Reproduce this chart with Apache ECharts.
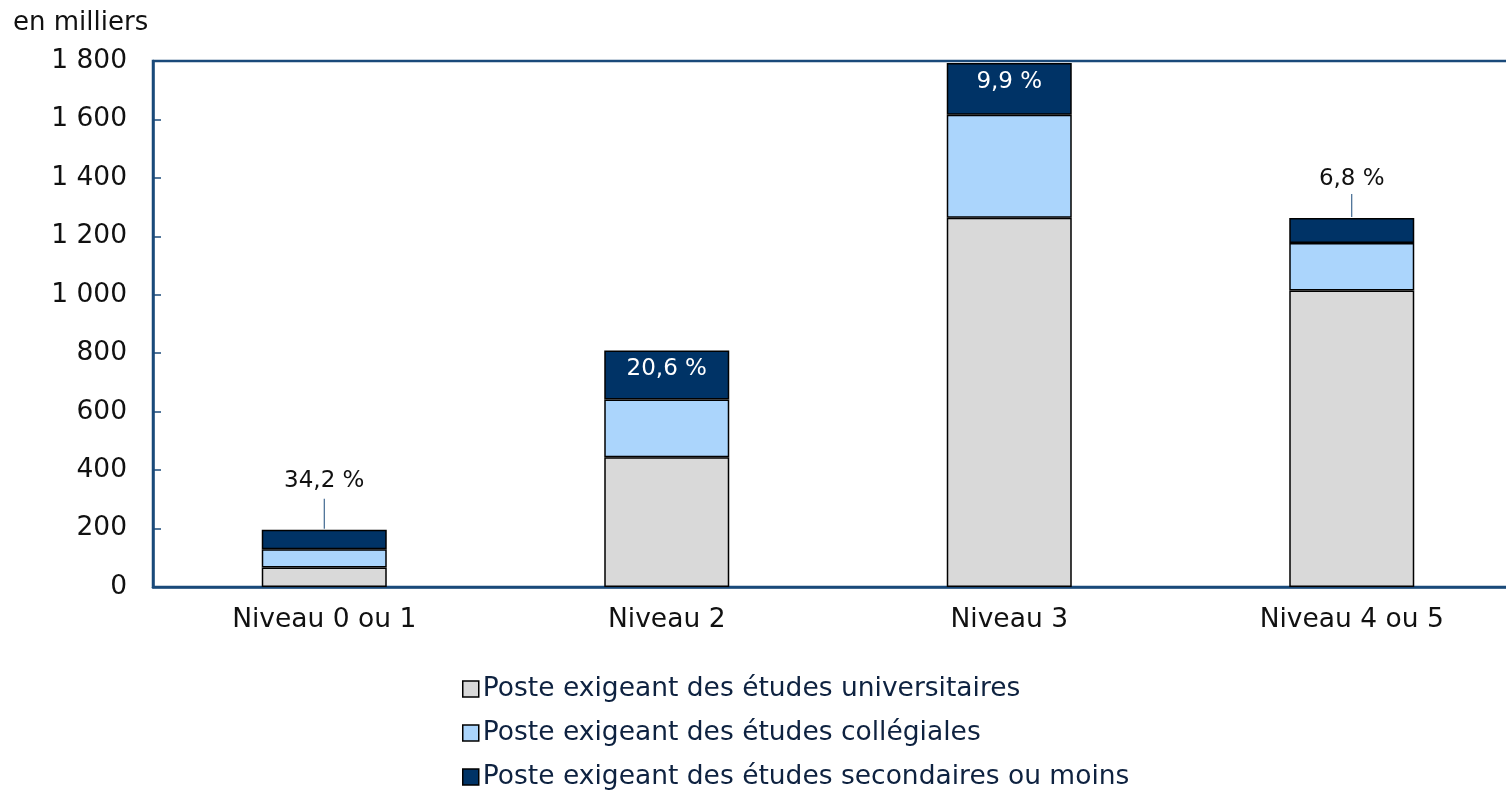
<!DOCTYPE html>
<html>
<head>
<meta charset="utf-8">
<script src="https://cdn.jsdelivr.net/npm/echarts@6/dist/echarts.min.js"></script>
<style>
  html, body { margin: 0; padding: 0; background: #fff; }
  #chart { width: 1506px; height: 791px; }
</style>
</head>
<body>
<div id="chart"></div>
<script>
// catégories et valeurs (en milliers)
const categories = ['Niveau 0 ou 1', 'Niveau 2', 'Niveau 3', 'Niveau 4 ou 5'];
const universitaires = [67, 444, 1264, 1015];
const collegiales = [62, 198, 352, 162];
const secondaires = [67, 167, 177, 86];
const pourcentages = ['34,2 %', '20,6 %', '9,9 %', '6,8 %'];
// étiquette à l'intérieur de la barre (true) ou au-dessus avec un trait (false)
const labelInside = [false, true, true, false];
const yTicks = [0, 200, 400, 600, 800, 1000, 1200, 1400, 1600, 1800];

const FONT = '"DejaVu Sans", Verdana, sans-serif';
const axisColor = '#1a4a7a';
// longueur du trait de rappel et hauteur de ligne du texte, pour les étiquettes hors barre
const leaderLen = [30, 0, 0, 23];
const leaderText = [36, 0, 0, 30];

const chart = echarts.init(document.getElementById('chart'));

function fmtThousands(v) {
  return String(v).replace(/\B(?=(\d{3})+(?!\d))/g, ' ');
}

const secData = secondaires.map((v, i) => {
  if (labelInside[i]) {
    return {
      value: v,
      label: {
        show: true,
        position: 'insideTop',
        distance: 7,
        color: '#fff',
        fontSize: 23,
        fontFamily: FONT,
        formatter: pourcentages[i]
      }
    };
  }
  return {
    value: v,
    label: {
      show: true,
      position: 'top',
      distance: 1,
      formatter: '{v|' + pourcentages[i] + '}\n{l|}',
      rich: {
        v: { fontSize: 23, fontFamily: FONT, color: '#111', lineHeight: leaderText[i] },
        l: { width: 1, height: leaderLen[i], backgroundColor: axisColor }
      }
    }
  };
});

const option = {
  animation: false,
  textStyle: { fontFamily: FONT },
  title: {
    text: 'en milliers',
    left: 8,
    top: 5,
    textStyle: { fontSize: 26, fontWeight: 'normal', color: '#111', fontFamily: FONT }
  },
  grid: {
    left: 153,
    top: 61,
    width: 1370,
    height: 526,
    outerBoundsMode: 'none',
    containLabel: false,
    show: true,
    borderColor: axisColor,
    borderWidth: 2.5,
    backgroundColor: 'transparent'
  },
  legend: {
    orient: 'vertical',
    left: 457,
    top: 669,
    height: 200,
    itemWidth: 16,
    itemHeight: 16,
    itemGap: 14,
    icon: 'rect',
    selectedMode: false,
    itemStyle: { borderColor: '#000', borderWidth: 1.5 },
    textStyle: { fontSize: 26.5, color: '#0e2240', fontFamily: FONT, lineHeight: 30, padding: [0, 0, 0, -1] },
    data: [
      'Poste exigeant des études universitaires',
      'Poste exigeant des études collégiales',
      'Poste exigeant des études secondaires ou moins'
    ]
  },
  xAxis: {
    type: 'category',
    data: categories,
    axisLine: { show: true, lineStyle: { color: axisColor, width: 2.5 } },
    axisTick: { show: false },
    axisLabel: { fontSize: 26.5, color: '#111', margin: 20, fontFamily: FONT }
  },
  yAxis: {
    type: 'value',
    min: 0,
    max: 1800,
    interval: 200,
    splitLine: { show: false },
    axisLine: { show: true, lineStyle: { color: axisColor, width: 2.5 } },
    axisTick: { show: true, inside: true, length: 8, lineStyle: { color: axisColor, width: 1.5 } },
    axisLabel: {
      fontSize: 26.5,
      color: '#111',
      margin: 26,
      fontFamily: FONT,
      formatter: v => yTicks.includes(v) ? fmtThousands(v) : ''
    }
  },
  series: [
    {
      name: 'Poste exigeant des études universitaires',
      type: 'bar',
      stack: 'total',
      barWidth: 125,
      itemStyle: { color: '#d9d9d9', borderColor: '#000', borderWidth: 1.5 },
      data: universitaires
    },
    {
      name: 'Poste exigeant des études collégiales',
      type: 'bar',
      stack: 'total',
      barWidth: 125,
      itemStyle: { color: '#abd5fc', borderColor: '#000', borderWidth: 1.5 },
      data: collegiales
    },
    {
      name: 'Poste exigeant des études secondaires ou moins',
      type: 'bar',
      stack: 'total',
      barWidth: 125,
      itemStyle: { color: '#003366', borderColor: '#000', borderWidth: 1.5 },
      data: secData
    }
  ]
};

chart.setOption(option);
</script>
</body>
</html>
